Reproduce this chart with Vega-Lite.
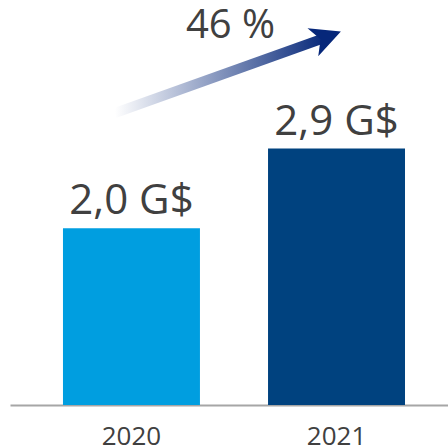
{
  "$schema": "https://vega.github.io/schema/vega-lite/v6.json",
  "width": 438,
  "height": 405,
  "autosize": "none",
  "padding": {"left": 10, "top": 0, "right": 0, "bottom": 43},
  "background": "white",
  "config": {"view": {"stroke": null}, "font": "Open Sans"},
  "datasets": {
    "bars": [
      {"year": "2020", "value": 2.0, "label": "2,0 G$"},
      {"year": "2021", "value": 2.9, "label": "2,9 G$"}
    ],
    "arrow": [
      {"t0": 2019.919, "v0": 3.303, "t1": 2020.929, "v1": 4.14, "th": 2020.953, "vh": 4.163, "tp": 2020.483, "vp": 4.152, "pct": "46 %"}
    ]
  },
  "layer": [
    {
      "data": {"name": "bars"},
      "encoding": {
        "x": {
          "field": "year", "type": "nominal",
          "scale": {"paddingInner": 0.332, "paddingOuter": 0.234, "align": 0.552},
          "axis": {"title": null, "labelAngle": 0, "ticks": false, "labelFontSize": 26, "labelColor": "#404040", "labelFont": "Open Sans", "labelBaseline": "alphabetic", "labelPadding": 39, "domainColor": "#a6a6a6", "domainWidth": 2, "grid": false}
        },
        "y": {"field": "value", "type": "quantitative", "scale": {"domain": [0, 4.58]}, "axis": null}
      },
      "layer": [
        {
          "mark": {"type": "bar"},
          "encoding": {
            "color": {"field": "year", "type": "nominal", "scale": {"domain": ["2020", "2021"], "range": ["#009ee0", "#00427f"]}, "legend": null}
          }
        },
        {
          "mark": {"type": "text", "baseline": "alphabetic", "dy": -14, "fontSize": 42, "color": "#404040", "font": "Open Sans"},
          "encoding": {"text": {"field": "label"}}
        }
      ]
    },
    {
      "data": {"name": "arrow"},
      "layer": [
        {
          "mark": {"type": "rule", "strokeWidth": 10, "strokeCap": "butt",
            "stroke": {"gradient": "linear", "x1": 0, "y1": 0, "x2": 1, "y2": 0,
              "stops": [{"offset": 0, "color": "#ffffff"}, {"offset": 1, "color": "#0b2c7c"}]}},
          "encoding": {
            "x": {"field": "t0", "type": "quantitative", "scale": {"domain": [2019.407, 2021.544], "nice": false, "zero": false}, "axis": null},
            "x2": {"field": "t1"},
            "y": {"field": "v0", "type": "quantitative", "scale": {"domain": [0, 4.58]}, "axis": null},
            "y2": {"field": "v1"}
          }
        },
        {
          "mark": {"type": "point", "filled": true, "shape": "M -1 -1 L 1 0 L -1 1 L -0.45 0 Z", "size": 900, "angle": 339, "color": "#06277a", "opacity": 1},
          "encoding": {
            "x": {"field": "th", "type": "quantitative", "scale": {"domain": [2019.407, 2021.544], "nice": false, "zero": false}, "axis": null},
            "y": {"field": "vh", "type": "quantitative", "scale": {"domain": [0, 4.58]}, "axis": null}
          }
        },
        {
          "mark": {"type": "text", "baseline": "alphabetic", "fontSize": 40, "color": "#404040", "font": "Open Sans"},
          "encoding": {
            "x": {"field": "tp", "type": "quantitative", "scale": {"domain": [2019.407, 2021.544], "nice": false, "zero": false}, "axis": null},
            "y": {"field": "vp", "type": "quantitative", "scale": {"domain": [0, 4.58]}, "axis": null},
            "text": {"field": "pct"}
          }
        }
      ]
    }
  ],
  "resolve": {"scale": {"x": "independent"}, "axis": {"x": "independent"}}
}
